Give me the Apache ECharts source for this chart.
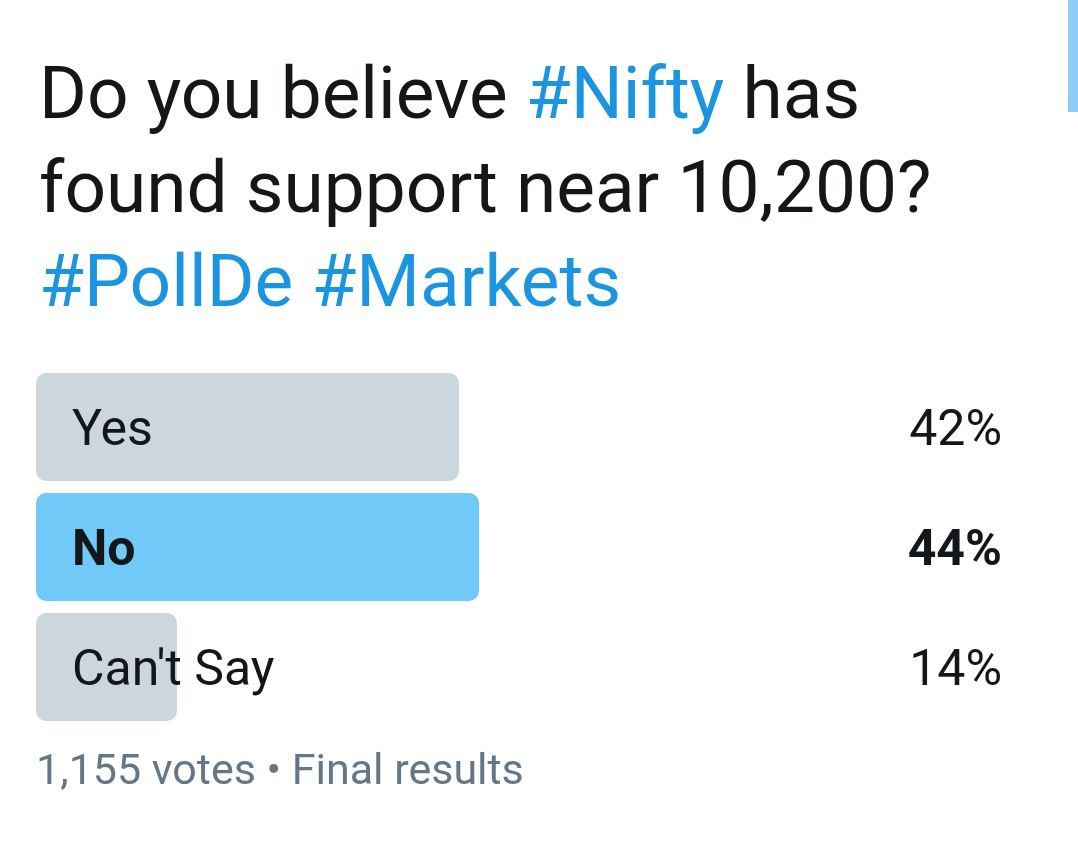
<!DOCTYPE html>
<html>
<head>
<meta charset="utf-8">
<style>
html,body{margin:0;padding:0;background:#fff;}
#chart{width:1078px;height:843px;}
</style>
<script src="https://cdn.jsdelivr.net/npm/echarts@6/dist/echarts.min.js"></script>
</head>
<body>
<div id="chart"></div>
<script>
const options = ["Yes", "No", "Can't Say"];
const percents = [42, 44, 14];
const totalVotes = "1,155";
const footerText = totalVotes + " votes \u2022 Final results";

const maxVal = Math.max.apply(null, percents);
const FONT = 'Roboto';

const chart = echarts.init(document.getElementById('chart'), null, {renderer: 'canvas'});

const barData = percents.map(function (v) {
  const win = v === maxVal;
  return {
    value: v,
    itemStyle: {color: win ? '#71c9f8' : '#ccd6dd'},
    label: {fontWeight: win ? 'bold' : 'normal'}
  };
});

chart.setOption({
  backgroundColor: '#ffffff',
  animation: false,
  title: {
    left: 34,
    top: 48,
    text: '{a|Do you believe }{b|#Nifty}{a| has}\n{a|found support near 10,200?}\n{b|#PollDe #Markets}',
    textStyle: {
      fontFamily: FONT,
      fontSize: 73,
      fontWeight: 'normal',
      lineHeight: 94,
      rich: {
        a: {color: '#14171a', fontFamily: FONT, fontSize: 73, fontWeight: 'normal', lineHeight: 94},
        b: {color: '#1b95e0', fontFamily: FONT, fontSize: 73, fontWeight: 'normal', lineHeight: 94}
      }
    }
  },
  grid: {left: 36, right: 35, top: 367, height: 360, containLabel: false},
  xAxis: {
    type: 'value', min: 0, max: 100, show: false
  },
  yAxis: [
    {
      type: 'category', data: options, inverse: true, show: false
    },
    {
      type: 'category', data: percents.map(function (v) { return v + '%'; }),
      inverse: true, position: 'right',
      axisLine: {show: false}, axisTick: {show: false}, splitLine: {show: false},
      axisLabel: {
        inside: true, margin: 41,
        fontFamily: FONT, fontSize: 50, color: '#14171a',
        padding: [10, 0, 0, 0],
        formatter: function (val, idx) {
          return percents[idx] === maxVal ? '{w|' + val + '}' : val;
        },
        rich: {w: {fontFamily: FONT, fontSize: 50, fontWeight: 'bold', color: '#14171a'}}
      }
    }
  ],
  series: [{
    type: 'bar',
    yAxisIndex: 0,
    data: barData,
    barWidth: 108,
    itemStyle: {borderRadius: 10},
    label: {
      show: true,
      position: 'insideLeft',
      distance: 36,
      offset: [0, 5],
      formatter: function (p) { return options[p.dataIndex]; },
      fontFamily: FONT,
      fontSize: 50,
      color: '#14171a'
    },
    emphasis: {disabled: true}
  }],
  graphic: [
    {
      type: 'text', left: 36, top: 752,
      style: {text: footerText, fontFamily: FONT, fontSize: 43, fill: '#657786'}
    },
    {
      type: 'rect', right: 0, top: 0,
      shape: {width: 10, height: 112},
      style: {fill: '#8ecdf5'}
    }
  ]
});
</script>
</body>
</html>
